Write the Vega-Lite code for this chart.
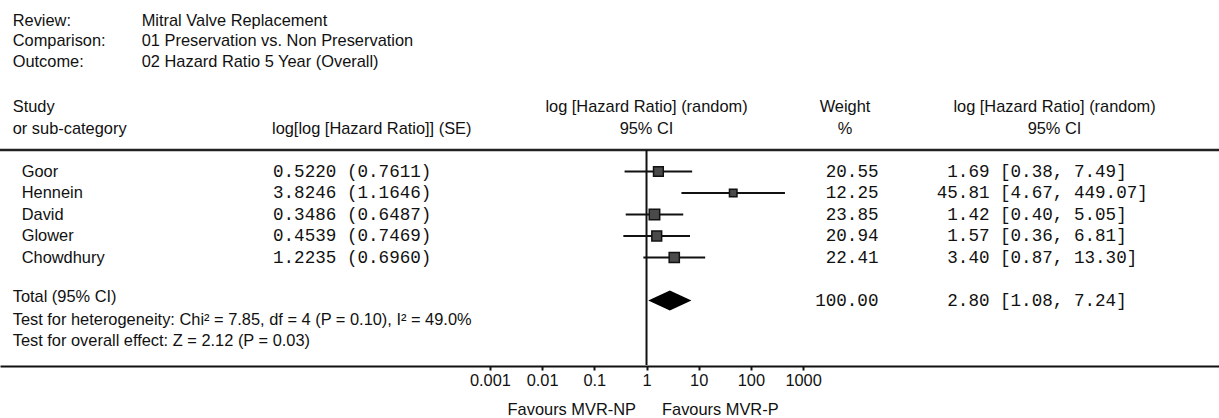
{
  "$schema": "https://vega.github.io/schema/vega-lite/v6.json",
  "width": 1219,
  "height": 418,
  "autosize": {"type": "none"},
  "padding": 0,
  "background": "white",
  "config": {
    "view": {"stroke": null},
    "text": {"font": "Liberation Sans", "fontSize": 16.4, "color": "#111111", "baseline": "middle"},
    "axisX": {
      "orient": "bottom", "offset": -52,
      "grid": false, "domainColor": "#111111", "domainWidth": 2,
      "tickColor": "#111111", "tickWidth": 2, "tickSize": 4,
      "labelFont": "Liberation Sans", "labelFontSize": 16.4, "labelColor": "#111111", "labelPadding": 2,
      "labelFlush": false, "labelOverlap": false
    }
  },
  "datasets": {
    "studies": [
      {"study": "Goor", "row": 1, "estse": "0.5220 (0.7611)", "weight": 20.55, "hr": 1.69, "lo": 0.38, "hi": 7.49, "ci": "[0.38, 7.49]"},
      {"study": "Hennein", "row": 2, "estse": "3.8246 (1.1646)", "weight": 12.25, "hr": 45.81, "lo": 4.67, "hi": 449.07, "ci": "[4.67, 449.07]"},
      {"study": "David", "row": 3, "estse": "0.3486 (0.6487)", "weight": 23.85, "hr": 1.42, "lo": 0.40, "hi": 5.05, "ci": "[0.40, 5.05]"},
      {"study": "Glower", "row": 4, "estse": "0.4539 (0.7469)", "weight": 20.94, "hr": 1.57, "lo": 0.36, "hi": 6.81, "ci": "[0.36, 6.81]"},
      {"study": "Chowdhury", "row": 5, "estse": "1.2235 (0.6960)", "weight": 22.41, "hr": 3.40, "lo": 0.87, "hi": 13.30, "ci": "[0.87, 13.30]"}
    ],
    "total": [
      {"label": "Total (95% CI)", "row": 7, "weight": 100.00, "hr": 2.80, "lo": 1.08, "hi": 7.24, "ci": "[1.08, 7.24]"}
    ]
  },
  "layer": [
    {
      "data": {"values": [{"line": "header"}]},
      "mark": {"type": "rule", "strokeWidth": 2.5, "color": "#222222"},
      "encoding": {
        "y": {"datum": 0, "type": "quantitative", "scale": {"domain": [-6.977, 12.465], "reverse": true, "nice": false, "zero": false}, "axis": null}
      }
    },
    {
      "data": {"values": [{"line": "null effect"}]},
      "mark": {"type": "rule", "strokeWidth": 2, "color": "#111111"},
      "encoding": {
        "x": {"datum": 1, "type": "quantitative", "scale": {"type": "log", "domain": [4.12e-13, 9.27e10], "nice": false}, "axis": {"values": [0.001, 0.01, 0.1, 1, 10, 100, 1000], "format": "~g", "title": null}},
        "y": {"datum": 0, "type": "quantitative", "scale": {"domain": [-6.977, 12.465], "reverse": true, "nice": false, "zero": false}, "axis": null},
        "y2": {"datum": 10}
      }
    },
    {
      "data": {"name": "studies"},
      "mark": {"type": "rule", "strokeWidth": 2, "color": "#111111"},
      "encoding": {
        "x": {"field": "lo", "type": "quantitative", "scale": {"type": "log", "domain": [4.12e-13, 9.27e10], "nice": false}, "axis": {"values": [0.001, 0.01, 0.1, 1, 10, 100, 1000], "format": "~g", "title": null}},
        "x2": {"field": "hi"},
        "y": {"field": "row", "type": "quantitative", "scale": {"domain": [-6.977, 12.465], "reverse": true, "nice": false, "zero": false}, "axis": null}
      }
    },
    {
      "data": {"name": "studies"},
      "mark": {"type": "point", "shape": "square", "filled": true, "color": "#4a4a4a", "stroke": "#111111", "strokeWidth": 1.5, "opacity": 1},
      "encoding": {
        "x": {"field": "hr", "type": "quantitative", "scale": {"type": "log", "domain": [4.12e-13, 9.27e10], "nice": false}, "axis": {"values": [0.001, 0.01, 0.1, 1, 10, 100, 1000], "format": "~g", "title": null}},
        "y": {"field": "row", "type": "quantitative", "scale": {"domain": [-6.977, 12.465], "reverse": true, "nice": false, "zero": false}, "axis": null},
        "size": {"field": "weight", "type": "quantitative", "scale": {"domain": [0, 100], "range": [0, 460]}, "legend": null}
      }
    },
    {
      "data": {"name": "total"},
      "mark": {"type": "point", "shape": "M -1 0 L 0 -0.46 L 1 0 L 0 0.46 Z", "filled": true, "color": "#000000", "opacity": 1, "size": 1866},
      "encoding": {
        "x": {"field": "hr", "type": "quantitative", "scale": {"type": "log", "domain": [4.12e-13, 9.27e10], "nice": false}, "axis": {"values": [0.001, 0.01, 0.1, 1, 10, 100, 1000], "format": "~g", "title": null}},
        "y": {"field": "row", "type": "quantitative", "scale": {"domain": [-6.977, 12.465], "reverse": true, "nice": false, "zero": false}, "axis": null}
      }
    },
    {
      "data": {"values": [
        {"label": "Review:", "value": "Mitral Valve Replacement", "row": -6},
        {"label": "Comparison:", "value": "01 Preservation vs. Non Preservation", "row": -5.05},
        {"label": "Outcome:", "value": "02 Hazard Ratio 5 Year (Overall)", "row": -4.1}
      ]},
      "layer": [
        {
          "mark": {"type": "text", "align": "left"},
          "encoding": {
            "x": {"value": 12.7},
            "y": {"field": "row", "type": "quantitative", "scale": {"domain": [-6.977, 12.465], "reverse": true, "nice": false, "zero": false}, "axis": null},
            "text": {"field": "label"}
          }
        },
        {
          "mark": {"type": "text", "align": "left"},
          "encoding": {
            "x": {"value": 141.7},
            "y": {"field": "row", "type": "quantitative", "scale": {"domain": [-6.977, 12.465], "reverse": true, "nice": false, "zero": false}, "axis": null},
            "text": {"field": "value"}
          }
        }
      ]
    },
    {
      "data": {"values": [
        {"text": "Study", "row": -2},
        {"text": "or sub-category", "row": -1},
        {"text": "Total (95% CI)", "row": 6.85},
        {"text": "Test for heterogeneity: Chi² = 7.85, df = 4 (P = 0.10), I² = 49.0%", "row": 7.9},
        {"text": "Test for overall effect: Z = 2.12 (P = 0.03)", "row": 8.9}
      ]},
      "mark": {"type": "text", "align": "left"},
      "encoding": {
        "x": {"value": 12.7},
        "y": {"field": "row", "type": "quantitative", "scale": {"domain": [-6.977, 12.465], "reverse": true, "nice": false, "zero": false}, "axis": null},
        "text": {"field": "text"}
      }
    },
    {
      "data": {"values": [{"text": "log[log [Hazard Ratio]] (SE)", "row": -1}]},
      "mark": {"type": "text", "align": "left"},
      "encoding": {
        "x": {"value": 272},
        "y": {"field": "row", "type": "quantitative", "scale": {"domain": [-6.977, 12.465], "reverse": true, "nice": false, "zero": false}, "axis": null},
        "text": {"field": "text"}
      }
    },
    {
      "data": {"values": [{"text": "log [Hazard Ratio] (random)", "row": -2}, {"text": "95% CI", "row": -1}]},
      "mark": {"type": "text", "align": "center"},
      "encoding": {
        "x": {"value": 646.5},
        "y": {"field": "row", "type": "quantitative", "scale": {"domain": [-6.977, 12.465], "reverse": true, "nice": false, "zero": false}, "axis": null},
        "text": {"field": "text"}
      }
    },
    {
      "data": {"values": [{"text": "Weight", "row": -2}, {"text": "%", "row": -1}]},
      "mark": {"type": "text", "align": "center"},
      "encoding": {
        "x": {"value": 845},
        "y": {"field": "row", "type": "quantitative", "scale": {"domain": [-6.977, 12.465], "reverse": true, "nice": false, "zero": false}, "axis": null},
        "text": {"field": "text"}
      }
    },
    {
      "data": {"values": [{"text": "log [Hazard Ratio] (random)", "row": -2}, {"text": "95% CI", "row": -1}]},
      "mark": {"type": "text", "align": "center"},
      "encoding": {
        "x": {"value": 1054.5},
        "y": {"field": "row", "type": "quantitative", "scale": {"domain": [-6.977, 12.465], "reverse": true, "nice": false, "zero": false}, "axis": null},
        "text": {"field": "text"}
      }
    },
    {
      "data": {"name": "studies"},
      "mark": {"type": "text", "align": "left"},
      "encoding": {
        "x": {"value": 21.7},
        "y": {"field": "row", "type": "quantitative", "scale": {"domain": [-6.977, 12.465], "reverse": true, "nice": false, "zero": false}, "axis": null},
        "text": {"field": "study"}
      }
    },
    {
      "data": {"name": "studies"},
      "mark": {"type": "text", "align": "left", "font": "Liberation Mono", "fontSize": 17.6},
      "encoding": {
        "x": {"value": 273},
        "y": {"field": "row", "type": "quantitative", "scale": {"domain": [-6.977, 12.465], "reverse": true, "nice": false, "zero": false}, "axis": null},
        "text": {"field": "estse"}
      }
    },
    {
      "data": {"values": [
        {"weight": 20.55, "hr": 1.69, "ci": "[0.38, 7.49]", "row": 1},
        {"weight": 12.25, "hr": 45.81, "ci": "[4.67, 449.07]", "row": 2},
        {"weight": 23.85, "hr": 1.42, "ci": "[0.40, 5.05]", "row": 3},
        {"weight": 20.94, "hr": 1.57, "ci": "[0.36, 6.81]", "row": 4},
        {"weight": 22.41, "hr": 3.40, "ci": "[0.87, 13.30]", "row": 5},
        {"weight": 100.00, "hr": 2.80, "ci": "[1.08, 7.24]", "row": 7}
      ]},
      "layer": [
        {
          "mark": {"type": "text", "align": "right", "font": "Liberation Mono", "fontSize": 17.6},
          "encoding": {
            "x": {"value": 878.5},
            "y": {"field": "row", "type": "quantitative", "scale": {"domain": [-6.977, 12.465], "reverse": true, "nice": false, "zero": false}, "axis": null},
            "text": {"field": "weight", "type": "quantitative", "format": ".2f"}
          }
        },
        {
          "mark": {"type": "text", "align": "right", "font": "Liberation Mono", "fontSize": 17.6},
          "encoding": {
            "x": {"value": 989.5},
            "y": {"field": "row", "type": "quantitative", "scale": {"domain": [-6.977, 12.465], "reverse": true, "nice": false, "zero": false}, "axis": null},
            "text": {"field": "hr", "type": "quantitative", "format": ".2f"}
          }
        },
        {
          "mark": {"type": "text", "align": "left", "font": "Liberation Mono", "fontSize": 17.6},
          "encoding": {
            "x": {"value": 1000},
            "y": {"field": "row", "type": "quantitative", "scale": {"domain": [-6.977, 12.465], "reverse": true, "nice": false, "zero": false}, "axis": null},
            "text": {"field": "ci"}
          }
        }
      ]
    },
    {
      "data": {"values": [{"text": "Favours MVR-NP", "row": 12.1}]},
      "mark": {"type": "text", "align": "right"},
      "encoding": {
        "x": {"value": 636},
        "y": {"field": "row", "type": "quantitative", "scale": {"domain": [-6.977, 12.465], "reverse": true, "nice": false, "zero": false}, "axis": null},
        "text": {"field": "text"}
      }
    },
    {
      "data": {"values": [{"text": "Favours MVR-P", "row": 12.1}]},
      "mark": {"type": "text", "align": "left"},
      "encoding": {
        "x": {"value": 662},
        "y": {"field": "row", "type": "quantitative", "scale": {"domain": [-6.977, 12.465], "reverse": true, "nice": false, "zero": false}, "axis": null},
        "text": {"field": "text"}
      }
    }
  ]
}
